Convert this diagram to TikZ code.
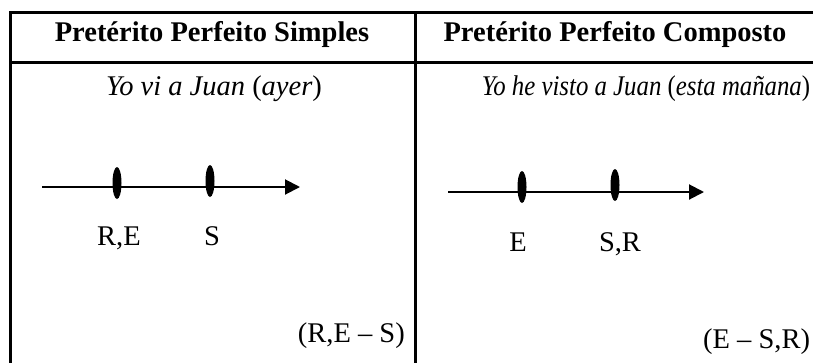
\documentclass[tikz,border=0pt]{standalone}
\usepackage{fontspec}
\setmainfont{Liberation Serif}
\usepackage{tikz}
\usetikzlibrary{arrows.meta,positioning,shapes.geometric}

\begin{document}
\begin{tikzpicture}[x=1pt,y=-1pt,
  every node/.style={font=\fontsize{28.5}{32}\selectfont,inner sep=0pt},
  head/.style={anchor=base,font=\fontsize{28.5}{32}\selectfont\bfseries},
  rule/.style={line width=3pt},
  timeline/.style={line width=2pt,-{Triangle[length=15pt,width=15pt]}},
  instant/.style={ellipse,fill=black,minimum width=9pt,minimum height=32pt}]
  \useasboundingbox (0,0) rectangle (813,362);
  % table rules
  \draw[rule] (820,12) -- (10,12) -- (10,370);
  \draw[rule] (10,62) -- (820,62);
  \draw[rule] (415,12) -- (415,370);
  % header row
  \node[head] (hsimple) at (212,41) {Pretérito Perfeito Simples};
  \node[head] (hcomp) at (615,41) {Pretérito Perfeito Composto};
  % example sentences
  \node[anchor=base] (exsimple) at (214,95) {\textit{Yo vi a Juan} (\textit{ayer})};
  \node[anchor=base] (excomp) at (646,95) {\scalebox{0.87}[1]{\textit{Yo he visto a Juan} (\textit{esta mañana})}};
  % left time line
  \coordinate (lstart) at (42,187);
  \coordinate (lend) at (300,187);
  \draw[timeline] (lstart) -- (lend);
  \node[instant] (re) at (117,183) {};
  \node[instant] (s) at (210,181) {};
  \node[anchor=base] (relabel) at (119,245) {R,E};
  \node[anchor=base] (slabel) at (212,245) {S};
  % right time line
  \coordinate (rstart) at (448,192);
  \coordinate (rend) at (704,192);
  \draw[timeline] (rstart) -- (rend);
  \node[instant] (e) at (522,187) {};
  \node[instant] (sr) at (615,185) {};
  \node[anchor=base] (elabel) at (518,251) {E};
  \node[anchor=base] (srlabel) at (620,251) {S,R};
  % formulas
  \node[anchor=base east] (fsimple) at (405,342) {(R,E – S)};
  \node[anchor=base west] (fcomp) at (703,348) {(E – S,R)};
\end{tikzpicture}
\end{document}
